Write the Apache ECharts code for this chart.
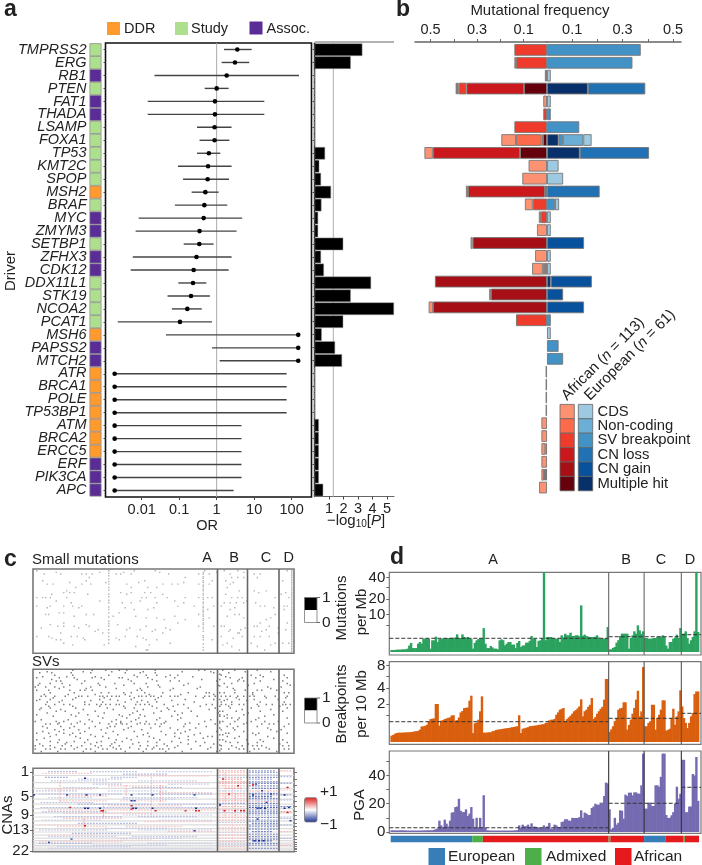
<!DOCTYPE html>
<html><head><meta charset="utf-8">
<style>html,body{margin:0;padding:0;background:#fff}#c{width:702px;height:865px}</style>
<script src="https://cdn.jsdelivr.net/npm/echarts@6/dist/echarts.min.js"></script>
</head><body><div id="c"></div>
<script>
const genes=['TMPRSS2','ERG','RB1','PTEN','FAT1','THADA','LSAMP','FOXA1','TP53','KMT2C','SPOP','MSH2','BRAF','MYC','ZMYM3','SETBP1','ZFHX3','CDK12','DDX11L1','STK19','NCOA2','PCAT1','MSH6','PAPSS2','MTCH2','ATR','BRCA1','POLE','TP53BP1','ATM','BRCA2','ERCC5','ERF','PIK3CA','APC'];
const driverGroup=['Study','Study','Assoc.','Study','Assoc.','Assoc.','Study','Study','Study','Study','Study','DDR','Study','Assoc.','Assoc.','Study','Assoc.','Assoc.','Study','Study','Study','Study','DDR','Assoc.','Assoc.','DDR','DDR','DDR','DDR','DDR','DDR','DDR','Assoc.','Assoc.','Assoc.'];
const orPoint=[3.56,3.08,1.85,1,.9,.9,.88,.88,.62,.59,.575,.5,.47,.45,.35,.345,.29,.244,.234,.207,.165,.105,150,150,150,.0019,.0019,.0019,.0019,.0019,.0019,.0019,.0019,.0019,.0019];
const orLow=[1.57,1.36,.022,.48,.0145,.0145,.3,.35,.3,.093,.127,.215,.077,.0083,.0069,.132,.0058,.0051,.095,.049,.064,.0023,.0445,.75,1.2,.0019,.0019,.0019,.0019,.0019,.0019,.0019,.0019,.0019,.0019];
const orHigh=[8.6,7.4,157,2.09,18.7,18.7,2.5,2.18,1.25,2.5,2.13,1.13,1.92,4.8,3.4,.83,2.5,2.09,.53,.66,.4,.75,150,150,150,73.6,73.6,73.6,73.6,4.6,4.6,4.6,4.6,4.6,2.84];
const minusLogP=[3.3,2.5,.03,.03,.03,.03,.03,.03,.73,.33,.45,1.14,.48,.25,.25,1.98,.45,.65,3.9,2.5,5.48,1.98,.5,1.42,1.9,.02,.02,.02,.02,.3,.3,.3,.3,.3,.6];
const groupColors={'DDR':'#ff9a2e','Study':'#addf8e','Assoc.':'#5a2d96'};

const freqTypes=['Multiple hit','CN gain','CN loss','SV breakpoint','Non-coding','CDS'];
const redColors=['#67000d','#a50f15','#cb181d','#ef3b2c','#fb6a4a','#fc9272'];
const blueColors=['#08306b','#08519c','#2171b5','#4292c6','#6baed6','#9ecae1'];
const afrCDS=[0,.007,0,.006,.016,0,0,.063,.036,.079,.106,.009,.034,.009,.043,.009,.051,.046,0,.007,.019,0,0,0,0,.006,.006,.006,.006,.024,.024,.017,.024,.011,.034];
const afrNonCoding=[0,0,0,.007,0,0,0,.11,0,0,0,0,0,0,0,0,0,.009,0,0,0,0,0,0,0,0,0,0,0,0,0,0,0,0,0];
const afrSV=[.14,.133,.009,.033,0,.016,.14,.006,0,0,0,0,.061,.026,0,0,0,.009,0,0,0,.133,0,0,0,0,0,0,0,0,0,.007,0,0,0];
const afrLoss=[0,0,0,.247,0,0,0,0,.374,0,0,.33,0,0,0,0,0,0,0,0,0,0,0,0,0,0,0,0,0,0,0,0,0,.004,0];
const afrGain=[0,0,0,0,0,0,0,0,0,0,0,0,0,0,0,.319,0,0,.481,.241,.489,0,0,0,0,0,0,0,0,0,0,0,0,0,0];
const afrMulti=[0,0,0,.099,0,0,0,.017,.116,0,0,.009,0,0,0,0,0,0,0,0,0,0,0,0,0,0,0,0,0,0,0,0,0,.009,0];
const eurCDS=[0,0,.015,0,.015,0,0,.033,0,.046,.064,0,.016,.015,.015,0,.015,.015,0,0,0,0,.015,0,0,0,0,0,0,0,0,0,0,0,0];
const eurNonCoding=[0,0,0,0,0,0,0,.08,0,0,0,0,0,0,0,0,0,0,0,0,0,0,0,0,0,0,0,0,0,0,0,0,0,0,0];
const eurSV=[.372,.339,0,0,0,.015,.128,.018,0,0,0,0,.032,0,0,0,0,0,0,0,0,.015,0,.046,.064,0,0,0,0,0,0,0,0,0,0];
const eurLoss=[0,0,0,.228,0,0,0,0,.275,0,0,.209,0,0,0,0,0,0,0,0,0,0,0,0,0,0,0,0,0,0,0,0,0,0,0];
const eurGain=[0,0,0,0,0,0,0,0,0,0,0,0,0,0,0,.147,0,0,.163,.064,.147,0,0,0,0,0,0,0,0,0,0,0,0,0,0];
const eurMulti=[0,0,0,.162,0,0,0,.046,.13,0,0,0,0,0,0,0,0,0,.015,0,0,0,0,0,0,0,0,0,0,0,0,0,0,0,0];

const subtypeEdges=[123,143,164];
const smallMutationRows=[[2,[2,67,81,114,127,136,169]],[4,[15,44,60,84,122,140]],[6,[7,18,32,35,39,55,58,65,90,110,117,131,151,147]],[10,[37,101,132,136,140,149]],[14,[6,35,74,119,128,166]],[16,[24,48,70,100,133]],[18,[9,13,32,38,62,86,92,96,110,117,131]],[22,[28,82,65,76,129]],[26,[22,137,155,147]],[28,[27,24,20,58,65,74,78,150,168]],[30,[12,36,62,86,128,165]],[34,[2,6,8,11,22,72,75,81,89,101,119,110,116,132,139,136,161,170]],[38,[15,44,71,94,142]],[40,[25,59,65,82,100,127,131,135,140,148]],[44,[32,2,11,20,26,107,96,120,125,151,154,167,169]],[46,[9,30,61,80,134,160]],[48,[76,67,116,131,167]],[52,[17,20,57]],[54,[8,10,35,40,110,137,134,161]],[56,[27,53,68,94,129]],[58,[75,82,117,140,158]],[60,[87,101,155]],[64,[20,96,169,151]],[66,[11,56,35]],[68,[16,20,27,37,75,110,127,125,120,147,149,157]],[70,[5,30,64,88,141,163]],[72,[62,71,81,91,131,138,43,155,168]],[74,[41,79,130,152]],[76,[46,18,86,137,136,163]],[80,[29,25,10,2,69,61,139,125,157,151,147]],[82,[12,33,55,73,133]],[84,[15,18,34,57,75,82,119]],[88,[91,20,145,129,161,166,170]],[90,[26,47,77,126,158]],[92,[68,132,149]],[96,[75,76,137,154]]];
const smallMutationColumns=[[113,[4,6,9,11,14,16,19,21,24,26,29,31,34,36,39,41,44,46,49,51,54,56,59,61,64,66,69,71,74,79,81,84,89,93,96]],[50,[2,5,8,12,15,18,22,25,30,33,37,40,45,48,52,57,62,65,68,72,76,80,84,88]],[172,[2,4,6,8,10,12,14,16,18,20,22,24,26,28,30,32,34,36,38,40,42,44,46,48,50,52,54,56,58,60,62,64,66,68,70,72,74,76,78,80,82,84,86,88,90,92,94,96,98]]];
const svRows=[[1,[26,39,48,57,62,81,110,114,126,134,149]],[3,[9,33,52,73,99,118,141,158]],[4,[4,12,25,38,61,71,81,120,130]],[7,[14,26,50,67,75,82,91,96,125,145,151,167]],[9,[6,22,41,69,88,106,128,153]],[10,[2,17,27,39,45,57,59,76,94,131,139,148,169]],[12,[12,29,47,63,79,112,137,160]],[14,[15,18,34,65,82,91,97,122,136,140,151,166]],[17,[4,11,19,32,43,54,67,75,103,127,132,147,169]],[19,[3,24,44,60,83,100,123,143,171]],[21,[1,8,14,20,38,48,76,84,111,129,156,165]],[23,[17,35,55,71,93,109,133,158]],[25,[2,10,24,31,34,39,69,72,91,134,141,149,152,162]],[28,[11,27,45,50,60,65,74,86,103,115,117,127,134,146,167,170]],[30,[7,23,41,61,77,98,120,146]],[32,[5,8,14,21,30,32,36,44,46,49,52,55,57,64,70,72,75,78,80,85,91,94,96,108,114,117,121,125,128,131,136,140,144,147,154,161,169]],[34,[13,28,47,67,83,113,135,155,168]],[36,[4,11,26,44,51,65,81,101,120,129,137,147,163]],[37,[2,19,38,56,72,92,127,142]],[39,[9,17,34,46,61,69,76,82,107,125,132,151,167]],[42,[8,14,20,24,34,37,42,45,48,51,55,57,68,71,74,77,87,96,100,115,119,125,128,132,137,140,149,155,159,166,168,171]],[44,[10,26,44,60,79,93,111,130,150,164]],[46,[5,11,28,49,61,67,82,89,103,121,131,145,169]],[48,[4,18,33,53,73,90,117,139,158]],[50,[15,21,41,69,85,94,105,126,135,151,166]],[52,[9,30,47,66,80,99,123,143]],[54,[2,25,36,57,64,71,96,124,129,140,160]],[56,[13,28,43,59,74,92,109,127,154]],[58,[46,62,70,84,98,129,132,137,150,169]],[60,[5,23,37,55,68,82,96,118,136,148]],[62,[1,15,20,31,39,52,58,65,75,88,114,126,134,145,154,163]],[64,[17,29,44,58,71,87,104,124,142]],[65,[8,11,16,25,34,50,55,59,62,69,74,77,81,85,101,110,121,131,140,152,157,160,170]],[68,[6,18,27,41,51,54,65,84,100,115,129,136,149,167]],[70,[9,24,37,49,63,78,91,108,133,156]],[72,[14,20,30,45,60,72,96,104,125,134,158,165]],[74,[6,17,34,53,67,85,101,122,140,162]],[76,[2,10,20,26,31,48,76,94,98,111,128,130,146,150,169]],[78,[15,24,38,56,73,88,107,126,148]],[80,[11,28,41,46,69,77,94,103,116,119,129,137,156]],[82,[7,31,50,62,80,97,113,134,160]],[84,[2,17,36,55,65,84,103,126,142,151,166]],[86,[11,27,45,59,76,92,108,128,153]],[87,[16,22,34,42,54,70,82,98,114,131,136,149,169]],[89,[4,21,38,52,66,87,103,120,143,164]],[91,[1,6,11,19,25,32,41,45,51,57,71,76,82,89,96,111,125,132,139,146,149,152,166,170]],[93,[14,29,43,53,64,80,94,118,135,155]],[95,[1,8,11,18,21,27,35,38,46,49,55,58,70,75,79,84,86,90,105,116,125,130,137,140,147,150,157,167,170]],[98,[5,16,33,41,61,73,88,99,122,144,162]]];
const svColumns=[[124,[6,12,20,28,36,44,50,56,62,70,78,84,90,97]]];

const chromLengths=[249,243,198,191,181,171,159,146,141,135,135,133,115,107,102,90,81,78,59,63,48,51];
const chromLabels=[1,5,9,13,22];
const cnaRuns=[[4,10,30,-.3],[4,38,70,-.25],[4,82,120,-.2],[7,60,90,-.3],[11,8,24,-.35],[11,52,70,-.25],[15,12,50,-.2],[15,70,110,-.2],[19,40,60,-.25],[19,90,118,-.2],[23,20,44,-.22],[23,66,100,-.3],[27,2,30,-.25],[27,50,90,-.2],[31,4,60,-.25],[31,70,120,-.3],[35,10,40,-.2],[35,60,110,-.22],[39,18,50,.2],[39,58,90,.18],[43,30,80,-.3],[43,84,122,-.25],[47,5,122,-.3],[50,10,60,.25],[50,60,122,.3],[54,20,80,.2],[58,14,60,-.25],[58,70,110,-.25],[62,6,46,-.2],[62,84,120,-.2],[66,30,70,-.3],[70,16,50,.18],[70,62,100,.2],[74,4,50,-.28],[74,70,120,-.25],[78,26,66,-.3],[82,10,56,-.2],[82,66,110,-.22],[86,30,80,.18],[90,4,40,-.3],[90,76,120,-.22],[94,16,66,-.2],
[6,6,40,.2],[9,70,118,.22],[13,30,60,-.22],[17,80,115,.2],[21,50,90,.22],[25,8,40,.2],[29,84,120,.2],[33,22,50,.25],[37,60,95,-.2],[41,5,40,-.25],[45,50,100,.2],[52,6,50,-.25],[56,60,120,-.22],[60,20,60,.2],[64,74,120,.2],[68,4,36,.18],[72,48,90,-.22],[76,90,122,.2],[80,10,44,.18],[84,56,100,-.2],[88,4,60,.18],[92,40,90,-.22],[96,10,120,-.2],
[3,124,142,.3],[8,124,142,.25],[13,126,140,.35],[18,124,143,.3],[24,128,140,.35],[30,124,142,.3],[36,124,143,.25],[42,124,142,-.4],[46,124,142,.3],[50,124,142,.45],[56,124,142,.25],[62,124,142,.3],[68,125,142,.22],[74,124,143,.25],[80,124,143,.28],[88,124,142,.25],[94,124,142,.22],
[5,124,143,.2],[11,124,143,-.25],[16,124,143,.3],[21,124,143,.25],[27,124,143,-.25],[33,124,143,.28],[39,124,143,.3],[53,124,143,-.25],[59,124,143,.25],[65,124,143,-.25],[71,124,143,.2],[77,124,143,-.2],[84,124,143,.22],[91,124,143,-.25],[97,124,143,.2],
[3,144,162,-.4],[8,144,163,-.3],[13,144,160,-.35],[18,144,163,-.5],[24,146,163,-.55],[30,144,163,-.5],[34,144,160,-.6],[38,144,163,-.4],[42,144,163,-.55],[47,144,163,-.7],[52,144,163,-.45],[56,144,163,-.4],[62,144,163,-.45],[66,146,163,-.5],[70,144,163,-.4],[76,146,160,-.55],[82,144,163,-.5],[87,146,160,-.65],[92,144,163,-.45],
[5,144,163,-.4],[11,144,163,-.45],[16,144,163,-.4],[21,144,163,-.5],[27,144,163,.3],[32,144,163,-.5],[36,144,163,-.5],[40,144,163,.25],[45,144,163,-.5],[50,144,163,-.55],[54,144,163,-.45],[59,144,163,-.5],[64,144,163,-.4],[68,144,163,-.45],[73,144,163,-.5],[79,144,163,-.45],[85,144,163,-.55],[90,144,163,-.5],[96,144,163,-.45],
[3,165,173,.3],[10,165,173,-.3],[18,165,173,-.35],[26,165,173,.25],[32,165,173,-.5],[38,165,173,-.3],[46,165,173,-.55],[52,165,173,.4],[60,165,173,-.3],[68,165,173,-.35],[76,165,173,.25],[84,165,173,-.3],[92,165,173,.3]];
const cnaColumns=[[18,16,40,.3],[62,20,35,.3],[79,10,60,.25],[85,20,40,.3],[34,60,75,.3],[47,45,60,.35],[128,5,60,.25],[135,30,60,.3],[133,10,90,.2],[150,5,90,-.25],[157,20,80,-.25]];
const cnaCells=[[34,11,-1],[0,31,-.9],[22,31,-.8],[35,31,-.9],[44,31,-.8],[65,31,-.9],[79,31,-.9],[107,31,-.8],[146,31,-.9],[167,31,-.9],[34,47,-1],[36,47,-1],[44,47,-.9],[66,47,-1],[68,47,-1],[79,47,-.9],[108,47,-.9],[124,43,-.9],[149,47,-1],[151,47,-1],[154,47,-1],[167,47,-.9],[65,38,-.9],[67,38,-.8],[46,50,1],[45,50,.9],[81,50,1],[65,48,.8],[101,50,.8],[108,50,1],[110,50,.8],[34,68,.9],[24,46,.8],[127,50,1],[134,50,1],[138,50,.9],[140,50,1],[169,52,1],[136,20,1],[146,19,.9],[169,22,.9],[65,44,.9],[147,86,-.9],[150,86,-1],[153,86,-.9],[149,60,-.8],[155,40,-.8],[158,30,-.8],[25,84,-.7],[107,74,-.8],[10,88,-.7],[148,18,-.7],[152,26,-.8],[170,46,-.9],[171,62,-.8],[126,12,.8],[130,30,.8]];

const ancestryNames=['European','Admixed','African'];
const ancestryRuns=[[0,46,0],[46,52,1],[52,123,2],[123,124,1],[124,143,2],[143,155,0],[155,165,2],[165,166,1],[166,174,2]];
const ancestryColors={European:'#377eb8',Admixed:'#4daf4a',African:'#e41a1c'};
const mutationsPerMb=[.03,.03,.03,.04,.04,.04,.05,.05,.05,.08,
.3,.58,.11,.11,.11,.5,.72,.5,1.28,1.28,
1.28,1.28,.08,.98,.98,1.7,.72,1.2,1.3,1.3,
1.35,1.35,1.4,1.4,1.45,1.45,1.5,2.24,1.41,1.41,
2.24,1.62,1.5,1.62,1.3,1.28,.08,.6,.98,1.2,
1.41,1.3,4.1,.5,.11,.11,.26,.15,.08,.08,
.05,.98,1.15,1.0,.32,.5,.72,.72,.39,.39,
.11,.6,.87,.18,.3,.32,.63,.63,.9,1.84,
1.28,1.28,.18,.9,.98,1.28,46.5,1.0,1.62,1.62,
1.62,1.3,1.28,1.28,1.28,.72,2.0,1.5,2.41,2.0,
2.0,2.68,1.84,1.84,2.0,2.0,1.8,15.6,1.9,2.16,
1.84,1.7,1.62,1.62,1.62,1.7,2.0,1.5,1.28,1.28,
1.28,1.4,4.49,.05,.05,.12,.18,.63,1.0,1.84,
2.41,2.41,2.41,2.41,.08,1.4,2.0,3.07,2.4,5.1,
3.37,2.4,3.07,1.41,1.41,1.28,1.28,1.3,1.41,1.41,
1.62,1.62,1.7,2.0,1.62,.3,.08,.72,.72,1.28,
1.5,2.16,1.41,4.14,2.41,2.41,3.07,1.4,.5,1.0,
1.62,3.07,46.5,2.87];
const breakpointsPer10Mb=[.055,.07,.095,.11,.12,.12,.12,.125,.125,.13,
.13,.135,.14,.155,.16,.17,.21,.33,.34,.36,
.41,.59,.72,.75,.76,1.98,1.98,.37,.62,.66,
.72,.76,.8,.83,.97,.98,.63,.65,.82,1.2,
1.32,1.58,1.6,1.64,2.34,2.94,.11,.48,.52,.68,
1.29,2.86,.12,.12,.125,.13,.13,.16,.17,.2,
.21,.22,.23,.24,.25,.26,.27,.28,.3,.31,
.33,.34,.98,.11,.24,.26,.28,.3,.34,.35,
.36,.37,.38,.4,.41,.43,.44,.5,.52,.64,
.68,.69,.73,1.02,1.2,1.43,1.5,1.59,.59,.72,
.83,.95,1.1,1.29,1.4,1.55,1.74,2.5,.9,1.3,
1.43,1.7,1.9,2.65,.73,.85,1.1,1.3,1.52,1.7,
2.46,5.44,5.44,.14,.22,.34,.6,.79,1.43,1.55,
1.6,2.16,2.16,.21,.4,.68,1.1,1.6,2.46,3.6,
.9,1.29,7.7,.34,.34,.5,.59,1.9,1.9,.21,
.8,1.02,1.43,2.38,2.38,.18,.2,.24,.79,1.52,
.41,.9,1.29,3.66,1.74,.79,.5,.27,.5,.9,
1.15,3.16,3.5,3.5];
const pga=[1.2,1.2,1.1,1.1,1.1,1.2,1.2,1.1,1.1,1,
1,1,1,1,1,1,1,1,1.1,1.1,
1.2,1.2,1.2,1.2,1.5,2,2.5,8,4.7,3.5,
8.7,5.9,4,8,13.7,14,17.6,18,23.5,15,
14,14.1,16,11.3,13,17.6,9.4,2.8,10,3.5,
10,3,26,3,1.2,1.1,1,1,1,1,
1,1,1,1,1,1,1,1,1,1.1,
1.2,1.3,4.7,3,5.2,4,4.2,5.2,3.5,6.1,
3.8,3.8,3.5,3.2,2.8,2.8,4.7,3,4,6.4,
2.4,2.4,5.2,4.7,3.5,3.5,7,7.5,9,9,
8,8,10,9.9,9.9,9.9,10.5,15.3,10,13.7,
13,12,12,17,18,20,19.3,19.3,20.7,20.7,
25.4,34.9,34.4,16,1.9,3,10,5.2,6.5,15.3,
15,9.4,26.4,25.4,27.8,27.8,25.9,28,28,27.1,
27.1,33,55.4,16.5,16.5,20.7,20.7,18.4,18.4,33,
33,32,39,55.4,55.4,12,10,10,11.8,14,
20,32,23.5,27,51,51,14,14,18,18,
41,40,53,22];
const mutationMeans=[1.35,1.68,2.15];
const breakpointMeans=[.565,.77,1.13];
const pgaMeans=[3,20.3,31.6];

// ---------- layout & style ----------
const FONT='"Liberation Sans",Arial,sans-serif', INK='#222';
const chart=echarts.init(document.getElementById('c'));
const G=(l,t,r,b,extra)=>Object.assign({left:l,top:t,width:r-l,height:b-t,containLabel:false},extra||{});
const box=(c,w)=>({show:true,borderColor:c,borderWidth:w,backgroundColor:'transparent'});
const grid=[
 G(89.5,43.2,101.5,496.5),
 G(105.5,43,311.5,497,box('#111',1.6)),
 G(314.5,43.2,394,496.5),
 G(415,43.5,547,494),
 G(547,43.5,681,494),
 G(33,569,294,653.3,box('#777',1.6)),
 G(33,669.3,294,753.3,box('#777',1.6)),
 G(33,768.3,294,851.7,box('#777',1.6)),
 G(389.3,572.3,701,655,box('#777',1.2)),
 G(389.3,661.7,701,744.3,box('#777',1.2)),
 G(389.3,751,701,833.3,box('#777',1.2)),
 G(390.7,835.7,699,842.3)
];
const hiddenX=(i,min,max)=>({type:'value',gridIndex:i,min,max,show:false});
const hiddenY=(i,min,max)=>({type:'value',gridIndex:i,min,max,show:false,inverse:true});
const catY=(i)=>({type:'category',gridIndex:i,data:genes,inverse:true,show:false});
const lbl=(vals,fmt,extra)=>Object.assign({show:true,customValues:vals,formatter:fmt,color:INK,fontSize:14.5,fontFamily:FONT},extra||{});
const sq=Math.sqrt;
const xAxis=[
 hiddenX(0,0,1),
 {type:'value',gridIndex:1,min:-2.965,max:2.53,splitLine:{show:false},axisLine:{show:false},
  axisTick:{show:true,customValues:[-2,-1,0,1,2],length:3,lineStyle:{color:'#444'}},
  axisLabel:lbl([-2,-1,0,1,2],v=>({'-2':'0.01','-1':'0.1','0':'1','1':'10','2':'100'})[String(Math.round(v))],{margin:5})},
 {type:'value',gridIndex:2,min:0,max:5.48,splitLine:{show:false},axisLine:{show:true,lineStyle:{color:'#666',width:1}},
  axisTick:{show:true,customValues:[1,2,3,4,5],length:3,lineStyle:{color:'#444'}},
  axisLabel:lbl([1,2,3,4,5],v=>String(Math.round(v)),{margin:5})},
 {type:'value',gridIndex:3,inverse:true,position:'top',offset:1.5,min:0,max:.5665,splitLine:{show:false},
  axisLine:{show:true,lineStyle:{color:'#666',width:1.5}},
  axisTick:{show:true,customValues:[.1,.2,.3,.4,.5],length:3,lineStyle:{color:'#666'}},
  axisLabel:lbl([.1,.3,.5],v=>v.toFixed(1),{margin:5})},
 {type:'value',gridIndex:4,position:'top',offset:1.5,min:0,max:.5317,splitLine:{show:false},
  axisLine:{show:true,lineStyle:{color:'#666',width:1.5}},
  axisTick:{show:true,customValues:[.1,.2,.3,.4,.5],length:3,lineStyle:{color:'#666'}},
  axisLabel:lbl([.1,.3,.5],v=>v.toFixed(1),{margin:5})},
 hiddenX(5,0,174),hiddenX(6,0,174),hiddenX(7,0,174),
 hiddenX(8,-.79,175.1),hiddenX(9,-.79,175.1),hiddenX(10,-.79,175.1),hiddenX(11,0,174)
];
const totalGenome=chromLengths.reduce((a,b)=>a+b,0);
const chromEdges=[],chromCentres=[];
chromLengths.reduce((acc,l)=>{chromCentres.push((acc+l/2)*100/totalGenome);chromEdges.push((acc+l)*100/totalGenome);return acc+l;},0);
const chromLabelAt=chromLabels.map(c=>chromCentres[c-1]);
const dY=(i,min,max,labels,ticks,fmt)=>({type:'value',gridIndex:i,min,max,splitLine:{show:false},axisLine:{show:false,onZero:false},
  axisTick:{show:true,customValues:ticks,length:3,lineStyle:{color:'#666'}},
  axisLabel:lbl(labels,fmt,{margin:4,fontSize:15})});
const yAxis=[
 {type:'category',gridIndex:0,data:genes,inverse:true,axisLine:{show:false,onZero:false},axisTick:{show:false},
  axisLabel:{show:true,interval:0,margin:3,fontSize:14.5,fontStyle:'italic',color:INK,fontFamily:FONT}},
 {type:'category',gridIndex:1,data:genes,inverse:true,axisLine:{show:false,onZero:false},axisLabel:{show:false},axisTick:{show:true,interval:0,length:2,alignWithLabel:true,lineStyle:{color:'#444'}}},
 {type:'category',gridIndex:2,data:genes,inverse:true,axisLabel:{show:false},axisLine:{show:true,onZero:false,lineStyle:{color:'#111',width:1.4}},axisTick:{show:true,interval:0,length:2,alignWithLabel:true,lineStyle:{color:'#444'}}},
 catY(3),catY(4),hiddenY(5,0,100),hiddenY(6,0,100),
 {type:'value',gridIndex:7,inverse:true,min:0,max:100,splitLine:{show:false},axisLine:{show:false,onZero:false},
  axisTick:{show:true,customValues:chromLabelAt,length:3,lineStyle:{color:'#666'}},
  axisLabel:lbl(chromLabelAt,v=>String(chromLabels[chromLabelAt.findIndex(c=>Math.abs(c-v)<1e-6)]),{margin:4,fontSize:15})},
 dY(8,-.254,6.754,[10,20,40].map(sq),[5,10,20,30,40].map(sq),v=>String(Math.round(v*v))),
 dY(9,-.085,2.974,[2,4,8].map(sq),[1,2,4,6,8].map(sq),v=>String(Math.round(v*v))),
 dY(10,-.92,57.24,[0,20,40],[0,10,20,30,40,50],v=>String(Math.round(v))),
 hiddenY(11,0,1),
 {type:'value',gridIndex:7,position:'right',inverse:true,min:0,max:100,splitLine:{show:false},axisLine:{show:false,onZero:false},axisLabel:{show:false},
  axisTick:{show:true,customValues:chromCentres,length:3,lineStyle:{color:'#777'}}}
];
const flatten=(rows,cols)=>{const o=[];rows.forEach(([r,ps])=>ps.forEach(p=>o.push([p+.5,r])));cols.forEach(([p,rs])=>rs.forEach(r=>o.push([p+.5,r])));return o;};
const series=[];
const vRules=(idx,xs,color,width,z)=>series.push({type:'custom',xAxisIndex:idx,yAxisIndex:idx,silent:true,clip:false,z,data:xs.map(x=>[x,0]),encode:{x:0,y:1},
  renderItem:(p,api)=>{const x=api.coord([api.value(0),0])[0],c=p.coordSys;return {type:'line',shape:{x1:x,y1:c.y,x2:x,y2:c.y+c.height},style:{stroke:color,lineWidth:width}};}});
const hRules=(idx,ys,color,width,z)=>series.push({type:'custom',xAxisIndex:idx,yAxisIndex:idx,silent:true,z,data:ys.map(y=>[0,y]),encode:{x:0,y:1},
  renderItem:(p,api)=>{const y=api.coord([0,api.value(1)])[1],c=p.coordSys;return {type:'line',shape:{x1:c.x,y1:y,x2:c.x+c.width,y2:y},style:{stroke:color,lineWidth:width}};}});
// a: annotation column
series.push({type:'bar',xAxisIndex:0,yAxisIndex:0,barWidth:'100%',silent:true,
  data:driverGroup.map(g=>({value:1,itemStyle:{color:groupColors[g]}})),itemStyle:{borderColor:'#888',borderWidth:.7}});
// a: forest
vRules(1,[0],'#aaa',1,1);
series.push({type:'custom',xAxisIndex:1,yAxisIndex:1,silent:true,clip:false,z:3,
  data:genes.map((g,i)=>[Math.log10(orLow[i]),Math.log10(orHigh[i]),i,Math.log10(orPoint[i])]),
  encode:{x:[0,1,3],y:2},
  renderItem:(p,api)=>{const a=api.coord([api.value(0),api.value(2)]),b=api.coord([api.value(1),api.value(2)]),c=api.coord([api.value(3),api.value(2)]);
    return {type:'group',children:[
      {type:'line',shape:{x1:a[0],y1:a[1],x2:b[0],y2:b[1]},style:{stroke:'#444',lineWidth:1.4}},
      {type:'circle',shape:{cx:c[0],cy:c[1],r:2.3},style:{fill:'#000'}}]};}});
// a: P bars
vRules(2,[1.3],'#bbb',1.2,1);
series.push({type:'bar',xAxisIndex:2,yAxisIndex:2,barWidth:'97%',silent:true,z:3,data:minusLogP,itemStyle:{color:'#000',borderColor:'#999',borderWidth:.5}});
// b: stacked bars
const addStack=(arrays,colors,xi,yi,stack)=>arrays.forEach((arr,k)=>series.push({type:'bar',xAxisIndex:xi,yAxisIndex:yi,stack,barWidth:'91%',silent:true,name:freqTypes[k],
  data:arr.map(v=>v>0?v:'-'),itemStyle:{color:colors[k],borderColor:'#777',borderWidth:.9}}));
addStack([afrMulti,afrGain,afrLoss,afrSV,afrNonCoding,afrCDS],redColors,3,3,'afr');
addStack([eurMulti,eurGain,eurLoss,eurSV,eurNonCoding,eurCDS],blueColors,4,4,'eur');
// c: dots
series.push({type:'scatter',xAxisIndex:5,yAxisIndex:5,silent:true,symbol:'rect',symbolSize:1.4,data:flatten(smallMutationRows,smallMutationColumns),itemStyle:{color:'#a0a0a0'}});
vRules(5,subtypeEdges,'#666',1.6,4);
series.push({type:'scatter',xAxisIndex:6,yAxisIndex:6,silent:true,symbol:'rect',symbolSize:1.5,data:flatten(svRows,svColumns),itemStyle:{color:'#606060'}});
vRules(6,subtypeEdges,'#666',1.6,4);
// c: CNA
const mix=(a,b,t)=>Math.round(a+(b-a)*t);
const cnaColor=v=>{const t=Math.min(1,Math.abs(v)*1.15);return v>0?`rgb(${mix(255,222,t)},${mix(255,30,t)},${mix(255,30,t)})`:`rgb(${mix(255,25,t)},${mix(255,50,t)},${mix(255,150,t)})`;};
const cnaRects=[...cnaRuns.map(([g,a,b,v])=>[a,b,g,g,v,0]),...cnaColumns.map(([p,a,b,v])=>[p,p,a,b,v,0]),...cnaCells.map(([p,g,v])=>[p,p+1.4,g,g+1.8,v,1])];
hRules(7,chromEdges.slice(0,-1),'#dcdcdc',1.2,1);
series.push({type:'custom',xAxisIndex:7,yAxisIndex:7,silent:true,z:2,data:cnaRects,encode:{x:[0,1],y:[2,3]},
  renderItem:(p,api)=>{const a=api.coord([api.value(0),api.value(2)]),b=api.coord([api.value(1),api.value(3)]),col=cnaColor(api.value(4));
    if(api.value(5)===1) return {type:'rect',shape:{x:a[0],y:a[1],width:b[0]-a[0],height:b[1]-a[1]},style:{fill:col}};
    return {type:'line',shape:{x1:a[0],y1:a[1],x2:b[0],y2:b[1]},style:{stroke:col,lineWidth:1.2,lineDash:[1.8,1.2]}};}});
vRules(7,subtypeEdges,'#666',1.6,4);
// d: bars
const dSeries=(idx,arr,tf,color,means,lineColor)=>{
  const seg=[[-.79,123],[123,164],[164,175.1]];
  series.push({type:'bar',xAxisIndex:idx,yAxisIndex:idx,barWidth:2.4,silent:true,z:2,data:arr.map((v,i)=>[i+.5,tf(v)]),itemStyle:{color}});
  series.push({type:'custom',xAxisIndex:idx,yAxisIndex:idx,silent:true,z:4,data:means.map((m,k)=>[seg[k][0],seg[k][1],tf(m)]),encode:{x:[0,1],y:2},
    renderItem:(p,api)=>{const a=api.coord([api.value(0),api.value(2)]),b=api.coord([api.value(1),api.value(2)]);
      return {type:'line',shape:{x1:a[0],y1:a[1],x2:b[0],y2:b[1]},style:{stroke:'#333',lineWidth:1,lineDash:[4,2]}};}});
  vRules(idx,subtypeEdges,lineColor,1.1,5);
};
dSeries(8,mutationsPerMb,sq,'#2ca25f',mutationMeans,'#666');
dSeries(9,breakpointsPer10Mb,sq,'#d95f0e',breakpointMeans,'#555');
dSeries(10,pga,v=>v,'#756bb1',pgaMeans,'#333');
series.push({type:'custom',xAxisIndex:11,yAxisIndex:11,silent:true,data:ancestryRuns.map(r=>[r[0],r[1],0,1,r[2]]),encode:{x:[0,1],y:[2,3]},
  renderItem:(p,api)=>{const a=api.coord([api.value(0),api.value(2)]),b=api.coord([api.value(1),api.value(3)]);
    return {type:'rect',shape:{x:a[0],y:a[1],width:b[0]-a[0],height:b[1]-a[1]},style:{fill:ancestryColors[ancestryNames[api.value(4)]]}};}});

// ---------- labels, keys ----------
const T=(x,y,text,o)=>{o=o||{};return {type:'text',x,y,rotation:o.rot||0,z:50,silent:true,style:Object.assign({text,fill:INK,font:`${o.style||''} ${o.size||14.5}px ${FONT}`,align:o.align||'left',verticalAlign:'middle'},o.rich?{rich:o.rich}:{})};};
const R=(x,y,w,h,fill,stroke)=>({type:'rect',z:50,silent:true,shape:{x,y,width:w,height:h},style:{fill,stroke:stroke||'none',lineWidth:stroke?.8:0}});
const L=(x1,y1,x2,y2,c,w)=>({type:'line',z:50,silent:true,shape:{x1,y1,x2,y2},style:{stroke:c,lineWidth:w||1}});
const ROT=Math.PI/2, richBase={a:{fontSize:15,fontFamily:FONT,color:INK},i:{fontSize:15,fontStyle:'italic',fontFamily:FONT,color:INK},s:{fontSize:10,fontFamily:FONT,color:INK,verticalAlign:'bottom',padding:[6,0,0,0]}};
const g=[
 T(4,10,'a',{style:'bold',size:23}),T(396,10,'b',{style:'bold',size:23}),T(4,560,'c',{style:'bold',size:23}),T(390,558,'d',{style:'bold',size:23}),
 R(107,22,13,13,groupColors.DDR),T(124,29,'DDR'),R(175,22,13,13,groupColors.Study),T(191,29,'Study'),R(249.5,21.5,13,13,groupColors['Assoc.']),T(266.5,29,'Assoc.'),
 T(11,271,'Driver',{rot:ROT,align:'center',size:15}),T(207,526,'OR',{align:'center'}),
 L(315,42,394,42,'#666',1.2),
 T(356,521,'{a|−log}{s|10}{a|[}{i|P}{a|]}',{align:'center',rich:richBase}),
 T(540,11,'Mutational frequency',{align:'center',size:15}),
 T(564,398,'{a|African (}{i|n}{a| = 113)}',{rot:Math.PI/4,rich:richBase}),
 T(587,398,'{a|European (}{i|n}{a| = 61)}',{rot:Math.PI/4,rich:richBase})
];
[...freqTypes].reverse().forEach((t,k)=>{const y=404.4+k*14.4;
  g.push(R(560,y,14.3,14.4,redColors[5-k],'#666'),R(578.3,y,14.4,14.4,blueColors[5-k],'#666'),T(597.5,y+7.2,t,{size:14.8}));});
g.push(T(32,559.5,'Small mutations',{size:15}),T(32,662,'SVs',{size:15}));
[['A',207],['B',234],['C',266],['D',288.7]].forEach(([t,x])=>g.push(T(x,557.5,t,{align:'center'})));
[['A',493],['B',626],['C',661],['D',690]].forEach(([t,x])=>g.push(T(x,560,t,{align:'center'})));
const key01=(y)=>[R(304.5,y,12.5,12.5,'#000'),R(304.5,y+12.5,12.5,12.5,'#fff'),R(304.5,y,12.5,25,'none','#777'),L(317,y,320,y,'#666',1),L(317,y+25,320,y+25,'#666',1),T(322,y,'1',{size:15.5}),T(322,y+25,'0',{size:15.5})];
g.push(...key01(597.5),...key01(698));
g.push({type:'rect',z:50,silent:true,shape:{x:304.5,y:797.7,width:12.5,height:24.3,r:2},style:{stroke:'#777',lineWidth:.8,fill:{type:'linear',x:0,y:0,x2:0,y2:1,colorStops:[{offset:0,color:'#de1e1e'},{offset:.5,color:'#fff'},{offset:1,color:'#193296'}]}}});
g.push(T(320,792,'+1',{size:15.5}),T(320,825,'−1',{size:15.5}));
g.push(T(8,815,'CNAs',{rot:ROT,align:'center',size:15}));
g.push(T(342,608,'Mutations',{rot:ROT,align:'center',size:15}),T(362,612,'per Mb',{rot:ROT,align:'center',size:15}));
g.push(T(342,704,'Breakpoints',{rot:ROT,align:'center',size:15}),T(362,704,'per 10 Mb',{rot:ROT,align:'center',size:15}));
g.push(T(360,805,'PGA',{rot:ROT,align:'center',size:15}));
[['European',428.5,448],['Admixed',525,546],['African',615,634]].forEach(([t,x,tx])=>g.push(R(x,848,16.5,17,ancestryColors[t]),T(tx,856.5,t,{size:15.5})));

chart.setOption({animation:false,textStyle:{fontFamily:FONT},grid,xAxis,yAxis,series,graphic:{elements:g}});
</script></body></html>
